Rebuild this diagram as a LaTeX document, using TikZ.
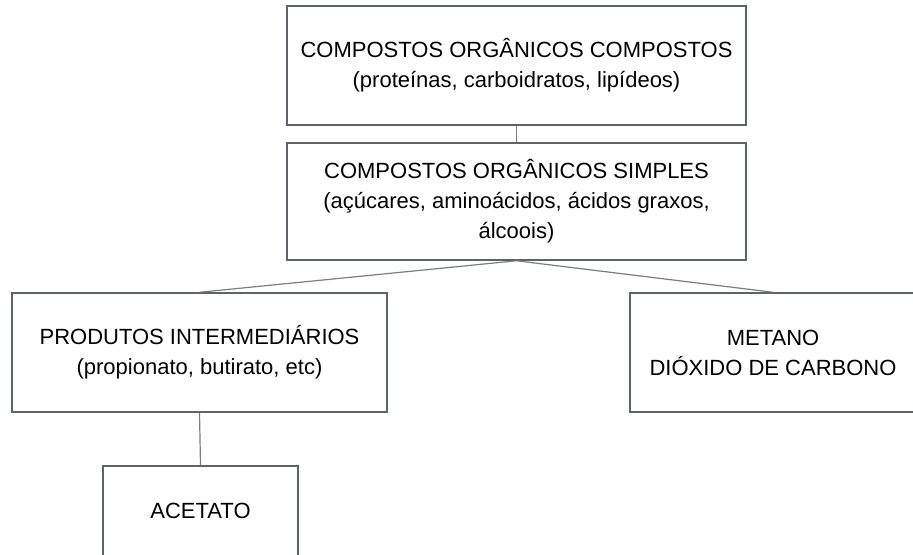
\documentclass[tikz,border=0pt]{standalone}
\usepackage{fontspec}
\setmainfont{Liberation Sans}
\definecolor{boxgray}{RGB}{95,99,110}
\definecolor{linegray}{RGB}{125,125,125}
\begin{document}
\begin{tikzpicture}
[   x=0.5pt, y=-0.5pt,
    box/.style={draw=boxgray,line width=0.75pt,align=center,inner sep=0pt,
        font=\fontsize{11}{15}\selectfont},
    link/.style={draw=linegray,line width=0.6pt},
]
\clip (0,0) rectangle (913,554);
%%%%%%%%%%%%%%%%%%%% TOP %%%%%%%%%%%%%%%%%%%%%%%%%%%%%%%%%%%
    \node[box,minimum width=229.5pt,minimum height=59.5pt] (comp) at (516.5,65.5)
        {COMPOSTOS ORGÂNICOS COMPOSTOS\\(proteínas, carboidratos, lipídeos)};
    \node[box,minimum width=229.5pt,minimum height=58.5pt] (simp) at (516.5,201.5)
        {COMPOSTOS ORGÂNICOS SIMPLES\\(açúcares, aminoácidos, ácidos graxos,\\álcoois)};
    \draw[link] (comp) -- (simp);

%%%%%%%%%%%%%%%%%%%% PRODUCTS %%%%%%%%%%%%%%%%%%%%%%%%%%%%%%%%%%%
    \node[box,minimum width=187.5pt,minimum height=59.5pt] (inter) at (199.5,352.5)
        {PRODUTOS INTERMEDIÁRIOS\\(propionato, butirato, etc)};
    \node[box,minimum width=143pt,minimum height=59.5pt] (metano) at (773,352.5)
        {METANO\\DIÓXIDO DE CARBONO};
    \draw[link] (simp.south) -- (inter.north);
    \draw[link] (simp.south) -- (metano.north);

%%%%%%%%%%%%%%%%%%%% ACETATE %%%%%%%%%%%%%%%%%%%%%%%%%%%%%%%%%%%
    \node[box,minimum width=97.5pt,minimum height=45pt] (acet) at (200.5,511) {ACETATO};
    \draw[link] (inter.south) -- (acet.north);

\end{tikzpicture}
\end{document}
